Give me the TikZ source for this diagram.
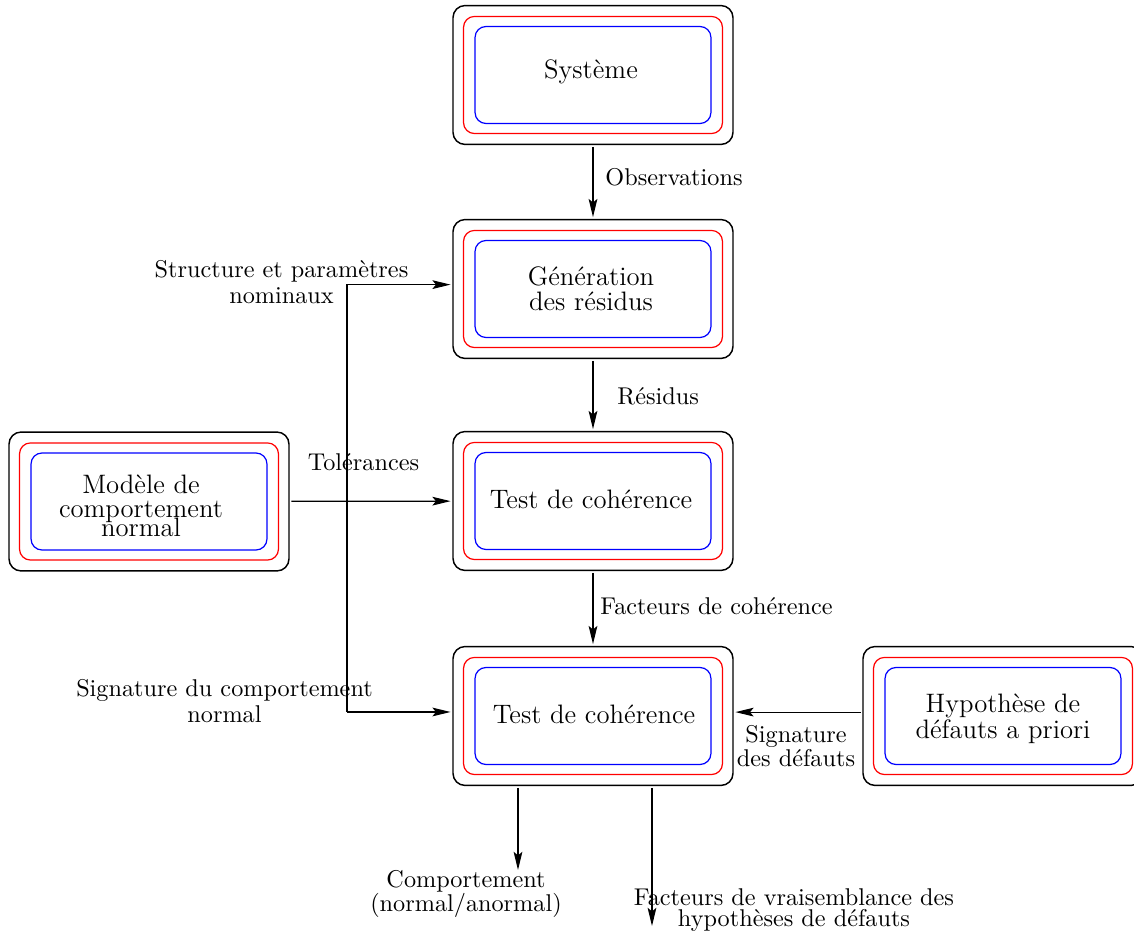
\documentclass[tikz,border=0pt]{standalone}
\usetikzlibrary{arrows.meta}
\setlength{\lineskiplimit}{-20pt}

\begin{document}
\begin{tikzpicture}[x=0.0145cm,y=-0.0145cm,
	cadre/.style={draw,rounded corners=5pt,line width=0.6pt,
		minimum width=115.5pt,minimum height=57.3pt,outer sep=1pt},
	rouge/.style={draw=red,rounded corners=4.5pt,line width=0.5pt,
		minimum width=106.8pt,minimum height=48.3pt},
	bleu/.style={draw=blue,rounded corners=4.5pt,line width=0.5pt,
		minimum width=97.3pt,minimum height=40pt},
	texte/.style={align=center,inner sep=0pt,font=\fontsize{11}{10.3}\selectfont},
	etiq/.style={align=center,inner sep=0pt,font=\fontsize{10}{10.5}\selectfont},
	fleche/.style={-{Stealth[length=7.5pt,width=3.6pt,inset=1.5pt]},line width=0.5pt}]
	\useasboundingbox (0,0) rectangle (1134,934);

	% blocs : cadre noir, rouge, bleu, puis le texte
	\node[cadre] (sys) at (593,75) {};
	\node[rouge] at (sys) {};
	\node[bleu] at (sys) {};
	\node[texte] (systxt) at (591,72) {Système};

	\node[cadre] (gen) at (593,289) {};
	\node[rouge] at (gen) {};
	\node[bleu] at (gen) {};
	\node[texte] (gentxt) at (591,289) {Génération\\des résidus};

	\node[cadre] (test1) at (593,501) {};
	\node[rouge] at (test1) {};
	\node[bleu] at (test1) {};
	\node[texte] (test1txt) at (591,499) {Test de cohérence};

	\node[cadre] (test2) at (593,716) {};
	\node[rouge] at (test2) {};
	\node[bleu] at (test2) {};
	\node[texte] (test2txt) at (594,714) {Test de cohérence};

	\node[cadre] (mod) at (149,501.5) {};
	\node[rouge] at (mod) {};
	\node[bleu] at (mod) {};
	\node[texte,font=\fontsize{11}{8}\selectfont] (modtxt) at (141,506)
		{Modèle de\\[1.9pt]comportement\\normal};

	\node[cadre] (hyp) at (1003,716) {};
	\node[rouge] at (hyp) {};
	\node[bleu] at (hyp) {};
	\node[texte,font=\fontsize{11}{10.6}\selectfont] (hyptxt) at (1003,719)
		{Hypothèse de\\défauts a priori};

	% points libres
	\coordinate (coude) at (347,712);
	\coordinate (sortie1) at (518,870);
	\coordinate (sortie2) at (652,926);

	% liaisons
	\draw[fleche] (sys) -- (gen);
	\draw[fleche] (gen) -- (test1);
	\draw[fleche] (test1) -- (test2);
	\draw[fleche] (mod) -- (test1);
	\draw[fleche] (coude) |- ([yshift=1.8pt]gen.west);
	\draw[fleche] (coude) -- (coude -| test2.west);
	\draw[fleche] ([yshift=1.6pt]hyp.west) -- ([yshift=1.6pt]test2.east);
	\draw[fleche] (sortie1 |- test2.south) -- (sortie1);
	\draw[fleche] (sortie2 |- test2.south) -- (sortie2);

	% etiquettes
	\node[etiq,anchor=west] (obs) at (605,177) {Observations};
	\node[etiq,anchor=west] (res) at (617,396) {Résidus};
	\node[etiq,anchor=west] (fac) at (600,606) {Facteurs de cohérence};
	\node[etiq] (tol) at (363.5,462) {Tolérances};
	\node[etiq] (struct) at (281.5,282) {Structure et paramètres\\nominaux};
	\node[etiq] (sigcomp) at (224.5,701) {Signature du comportement\\normal};
	\node[etiq,font=\fontsize{10}{9.6}\selectfont] (sigdef) at (796,746) {Signature\\des défauts};
	\node[etiq,font=\fontsize{10}{10}\selectfont] (comp) at (466,894) {Comportement\\(normal/anormal)};
	\node[etiq,font=\fontsize{10}{8.8}\selectfont] (vrai) at (794,910) {Facteurs de vraisemblance des\\hypothèses de défauts};
\end{tikzpicture}
\end{document}
